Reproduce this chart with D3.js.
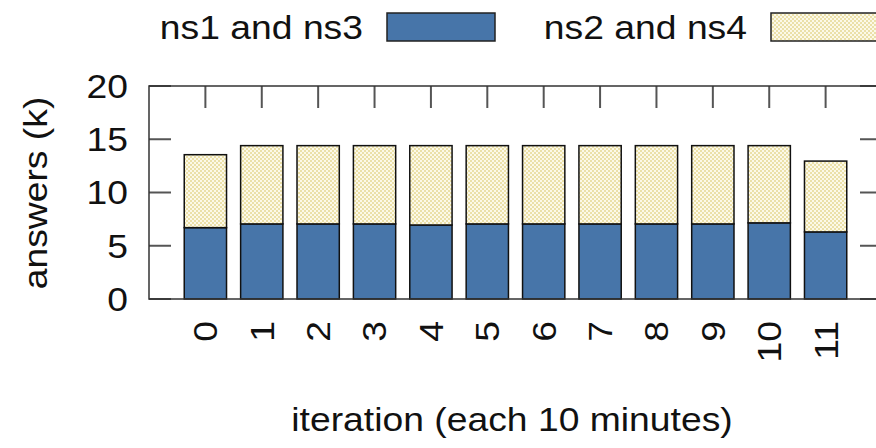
<!DOCTYPE html>
<html>
<head>
<meta charset="utf-8">
<script src="https://cdn.jsdelivr.net/npm/d3@7"></script>
<style>
  body { margin: 0; background: #fff; }
  text { font-family: "Liberation Sans", Arial, sans-serif; fill: #111; }
</style>
</head>
<body>
<div id="chart"></div>
<script>
// values (thousands of answers)
const iterations = ["0", "1", "2", "3", "4", "5", "6", "7", "8", "9", "10", "11"];
const ns13 = [6.7, 7.05, 7.05, 7.05, 6.95, 7.05, 7.05, 7.05, 7.05, 7.05, 7.15, 6.3];
const ns24 = [6.85, 7.35, 7.35, 7.35, 7.45, 7.35, 7.35, 7.35, 7.35, 7.35, 7.25, 6.65];
const seriesNames = ["ns1 and ns3", "ns2 and ns4"];
const yTicks = [0, 5, 10, 15, 20];

const width = 876, height = 448;
const margin = { top: 86, right: -6, bottom: 149, left: 149 };
const fontSize = 33, stretch = 1.13; // the original glyphs are a bit wider than Arial

const svg = d3.select("#chart").append("svg")
  .attr("width", width)
  .attr("height", height);

const defs = svg.append("defs");
const pat = defs.append("pattern")
  .attr("id", "check")
  .attr("patternUnits", "userSpaceOnUse")
  .attr("width", 4).attr("height", 4);
pat.append("rect").attr("width", 4).attr("height", 4).attr("fill", "#ebe0a9");
pat.append("rect").attr("width", 2).attr("height", 2).attr("fill", "#fcf9e8");
pat.append("rect").attr("x", 2).attr("y", 2).attr("width", 2).attr("height", 2).attr("fill", "#fcf9e8");

const colors = ["#4775a9", "url(#check)"];

const rows = iterations.map((it, i) => ({ it: i, a: ns13[i], b: ns24[i] }));
const stacked = d3.stack().keys(["a", "b"])(rows);

const x = d3.scaleLinear()
  .domain([-1, iterations.length])
  .range([margin.left, width - margin.right]);
const y = d3.scaleLinear()
  .domain([0, 20])
  .range([height - margin.bottom, margin.top]);

const step = x(1) - x(0);
const barW = step * 0.75;
const tickLen = 22;

// ticks (inward, mirrored)
const ticks = svg.append("g").attr("stroke", "#555").attr("stroke-width", 2);
ticks.selectAll(".yl").data(yTicks).enter().append("line")
  .attr("x1", x(-1)).attr("x2", x(-1) + tickLen)
  .attr("y1", d => y(d)).attr("y2", d => y(d));
ticks.selectAll(".yr").data(yTicks).enter().append("line")
  .attr("x1", x(iterations.length)).attr("x2", x(iterations.length) - tickLen)
  .attr("y1", d => y(d)).attr("y2", d => y(d));
ticks.selectAll(".xt").data(iterations).enter().append("line")
  .attr("x1", (d, i) => x(i)).attr("x2", (d, i) => x(i))
  .attr("y1", y(20)).attr("y2", y(20) + tickLen);

// bars
svg.selectAll(".layer").data(stacked).enter().append("g")
  .attr("fill", (d, i) => colors[i])
  .selectAll("rect").data(d => d).enter().append("rect")
  .attr("x", d => x(d.data.it) - barW / 2)
  .attr("y", d => y(d[1]))
  .attr("width", barW)
  .attr("height", d => y(d[0]) - y(d[1]))
  .attr("stroke", "#111")
  .attr("stroke-width", 1.5);

// frame
svg.append("rect")
  .attr("x", x(-1)).attr("y", y(20))
  .attr("width", x(iterations.length) - x(-1))
  .attr("height", y(0) - y(20))
  .attr("fill", "none")
  .attr("stroke", "#333")
  .attr("stroke-width", 1.5);

// y tick labels
svg.selectAll(".ylab").data(yTicks).enter().append("text")
  .attr("transform", d => `translate(128,${y(d)}) scale(${stretch},1)`)
  .attr("text-anchor", "end")
  .attr("dy", "0.36em")
  .style("font-size", fontSize + "px")
  .text(d => d);

// x tick labels, rotated
svg.selectAll(".xlab").data(iterations).enter().append("text")
  .attr("transform", (d, i) => `translate(${x(i)},321) rotate(-90) scale(${stretch},1)`)
  .attr("text-anchor", "end")
  .attr("dy", "0.36em")
  .style("font-size", fontSize + "px")
  .text(d => d);

// axis titles
svg.append("text")
  .attr("transform", `translate(47,193) rotate(-90) scale(${stretch},1)`)
  .attr("text-anchor", "middle")
  .style("font-size", fontSize + "px")
  .text("answers (k)");

svg.append("text")
  .attr("transform", `translate(512,431) scale(${stretch},1)`)
  .attr("text-anchor", "middle")
  .style("font-size", fontSize + "px")
  .text("iteration (each 10 minutes)");

// legend
const legendX = [363, 747];
const legend = svg.selectAll(".leg").data(seriesNames).enter().append("g");
legend.append("text")
  .attr("transform", (d, i) => `translate(${legendX[i]},39) scale(${stretch},1)`)
  .attr("text-anchor", "end")
  .style("font-size", fontSize + "px")
  .text(d => d);
legend.append("rect")
  .attr("x", (d, i) => legendX[i] + 24)
  .attr("y", 13)
  .attr("width", 108)
  .attr("height", 28)
  .attr("fill", (d, i) => colors[i])
  .attr("stroke", "#222")
  .attr("stroke-width", 1.5);
</script>
</body>
</html>
